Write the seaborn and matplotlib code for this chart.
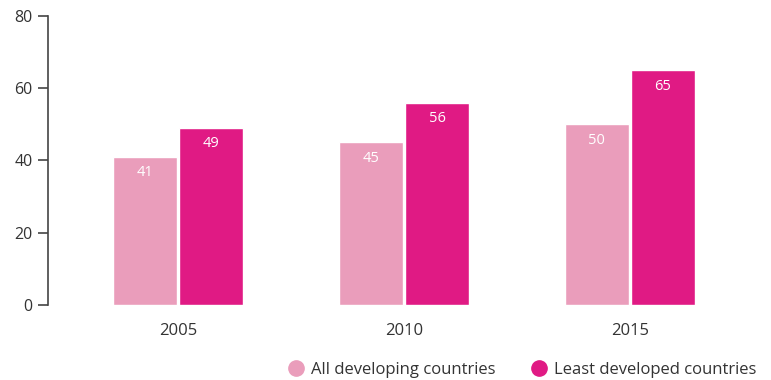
import matplotlib
matplotlib.use("Agg")
import matplotlib.pyplot as plt
import seaborn as sns
import pandas as pd
from matplotlib.lines import Line2D

years = ["2005", "2010", "2015"]
series = ["All developing countries", "Least developed countries"]
all_developing = [41, 45, 50]
least_developed = [49, 56, 65]
yticks = [0, 20, 40, 60, 80]

colors = ["#EA9DBB", "#E01A84"]
text_col = "#333333"

sns.set_theme(style="white")
plt.rcParams['font.family'] = ['Open Sans', 'DejaVu Sans']

df = pd.DataFrame({
    "year": years * 2,
    "series": [series[0]] * 3 + [series[1]] * 3,
    "value": all_developing + least_developed,
})

fig = plt.figure(figsize=(7.71, 3.80), dpi=100)
ax = fig.add_axes([48 / 771, 75 / 380, (743 - 48) / 771, (305 - 16) / 380])

sns.barplot(data=df, x="year", y="value", hue="series", palette=colors,
            width=0.585, gap=0.04, saturation=1, ax=ax, legend=False)

for cont in ax.containers:
    for bar in cont:
        h = bar.get_height()
        ax.annotate(f"{h:.0f}", (bar.get_x() + bar.get_width() / 2, h),
                    xytext=(0, -16), textcoords="offset pixels",
                    ha="center", va="center", color="white", fontsize=10.5)

ax.set_xlim(-0.575, 2.5)
ax.set_ylim(0, 80)
ax.set_yticks(yticks)
ax.set_yticklabels([str(t) for t in yticks])
ax.set_xlabel("")
ax.set_ylabel("")
for s in ["top", "right", "bottom"]:
    ax.spines[s].set_visible(False)
ax.spines["left"].set_color("#444444")
ax.spines["left"].set_linewidth(1.2)
ax.tick_params(axis="y", which="major", left=True, length=7, width=1.2, color="#444444",
               labelsize=11.5, labelcolor=text_col, pad=4)
ax.tick_params(axis="x", bottom=False, labelsize=12, labelcolor=text_col, pad=7)

handles = [Line2D([0], [0], marker="o", color="none", markerfacecolor=c, markeredgecolor=c,
                  markersize=11) for c in colors]
fig.legend(handles, series, loc="lower right", bbox_to_anchor=(1.0, -0.035), ncol=2,
           frameon=False, fontsize=12, labelcolor=text_col, handletextpad=0.3,
           columnspacing=2.0, handlelength=1.2)

fig.savefig("out.png", dpi=100)
